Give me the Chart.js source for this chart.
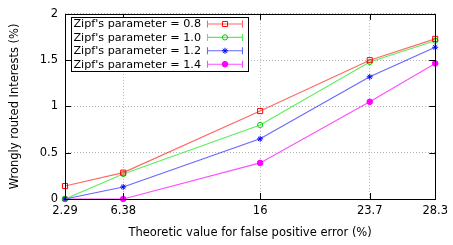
<!DOCTYPE html>
<html>
<head>
<meta charset="utf-8">
<script src="https://cdn.jsdelivr.net/npm/chart.js@4.4.1/dist/chart.umd.min.js"></script>
<style>
  html, body { margin: 0; padding: 0; background: #fff; }
  #wrap { width: 453px; height: 245px; }
</style>
</head>
<body>
<div id="wrap"><canvas id="chart" width="453" height="245"></canvas></div>
<script>
const xValues = [2.29, 6.38, 16, 23.7, 28.3];
const yTicks = [0, 0.5, 1, 1.5, 2];
const seriesLabels = ["Zipf's parameter = 0.8", "Zipf's parameter = 1.0", "Zipf's parameter = 1.2", "Zipf's parameter = 1.4"];
const zipf08 = [0.14, 0.285, 0.95, 1.5, 1.73];
const zipf10 = [0, 0.27, 0.8, 1.48, 1.71];
const zipf12 = [0, 0.13, 0.65, 1.32, 1.64];
const zipf14 = [0, 0, 0.39, 1.05, 1.465];

const FONT = "'DejaVu Sans', sans-serif";
const FSIZE = 11.5;

const styles = [
    { line: 'rgba(255,0,0,0.6)', point: '#ff0000', style: 'rect', radius: 3.6, fill: false },
    { line: 'rgba(0,230,0,0.65)', point: '#00d000', style: 'circle', radius: 2.6, fill: false },
    { line: 'rgba(0,0,255,0.6)', point: '#0000ff', style: 'star', radius: 3, fill: false },
    { line: 'rgba(255,0,255,0.7)', point: '#ff00ff', style: 'circle', radius: 2.8, fill: true }
];
const allSeries = [zipf08, zipf10, zipf12, zipf14];

const datasets = allSeries.map((vals, i) => ({
    label: seriesLabels[i],
    data: vals.map((v, j) => ({ x: xValues[j], y: v })),
    borderColor: styles[i].line,
    borderWidth: 1.1,
    pointStyle: styles[i].style,
    pointRadius: styles[i].radius,
    pointBorderColor: styles[i].point,
    pointBackgroundColor: styles[i].fill ? styles[i].point : 'rgba(0,0,0,0)',
    pointBorderWidth: 1,
    fill: false,
    tension: 0,
    clip: false
}));

// gnuplot-like frame, inner tick marks and legend box
const framePlugin = {
    id: 'frame',
    afterDraw(chart) {
        const ctx = chart.ctx;
        const a = chart.chartArea;
        const xs = chart.scales.x, ys = chart.scales.y;
        ctx.save();
        ctx.strokeStyle = '#000';
        ctx.lineWidth = 1;
        ctx.strokeRect(Math.round(a.left) + 0.5, Math.round(a.top) + 0.5, Math.round(a.right - a.left), Math.round(a.bottom - a.top));
        ctx.beginPath();
        xValues.forEach(v => {
            const px = Math.round(xs.getPixelForValue(v)) + 0.5;
            ctx.moveTo(px, a.bottom); ctx.lineTo(px, a.bottom - 6);
            ctx.moveTo(px, a.top); ctx.lineTo(px, a.top + 6);
        });
        yTicks.forEach(v => {
            const py = Math.round(ys.getPixelForValue(v)) + 0.5;
            ctx.moveTo(a.left, py); ctx.lineTo(a.left + 6, py);
            ctx.moveTo(a.right, py); ctx.lineTo(a.right - 6, py);
        });
        ctx.stroke();

        // legend
        const bx = 71.5, by = 17.5, bw = 177, bh = 54;
        ctx.fillStyle = '#fff';
        ctx.fillRect(bx, by, bw, bh);
        ctx.strokeRect(bx, by, bw, bh);
        ctx.font = '11.2px ' + FONT;
        ctx.textAlign = 'right';
        ctx.textBaseline = 'middle';
        seriesLabels.forEach((lab, i) => {
            const y = 24 + i * 13.4;
            ctx.fillStyle = '#000';
            ctx.fillText(lab, 201, y + 0.5);
            const st = styles[i];
            ctx.strokeStyle = st.line;
            ctx.lineWidth = 1.1;
            ctx.beginPath();
            ctx.moveTo(207.5, y); ctx.lineTo(242.5, y);
            ctx.moveTo(207.5, y - 3.5); ctx.lineTo(207.5, y + 3.5);
            ctx.moveTo(242.5, y - 3.5); ctx.lineTo(242.5, y + 3.5);
            ctx.stroke();
            ctx.strokeStyle = st.point;
            ctx.fillStyle = st.fill ? st.point : 'rgba(0,0,0,0)';
            ctx.lineWidth = 1;
            Chart.helpers.drawPoint(ctx, { pointStyle: st.style, radius: st.radius, borderWidth: 1 }, 225, y);
        });
        ctx.restore();
    }
};

new Chart(document.getElementById('chart'), {
    type: 'line',
    data: { datasets: datasets },
    plugins: [framePlugin],
    options: {
        responsive: false,
        animation: false,
        layout: { padding: { top: 12, right: 13, left: 0, bottom: 0 } },
        plugins: { legend: { display: false }, tooltip: { enabled: false } },
        scales: {
            x: {
                type: 'linear',
                min: 2.29,
                max: 28.3,
                afterBuildTicks: (axis) => { axis.ticks = xValues.map(v => ({ value: v })); },
                afterFit: (axis) => { axis.height = 46; },
                grid: { color: '#b4b4b4', lineWidth: 1, drawTicks: false },
                border: { display: false, dash: [1, 2] },
                ticks: {
                    color: '#000', padding: 5, maxRotation: 0, autoSkip: false,
                    font: { family: FONT, size: FSIZE },
                    callback: (v) => String(v)
                },
                title: { display: true, text: 'Theoretic value for false positive error (%)', color: '#000', font: { family: FONT, size: FSIZE }, padding: { top: 0, bottom: 5 } }
            },
            y: {
                min: 0,
                max: 2,
                afterBuildTicks: (axis) => { axis.ticks = yTicks.map(v => ({ value: v })); },
                afterFit: (axis) => { axis.width = 65; },
                grid: { color: '#b4b4b4', lineWidth: 1, drawTicks: false },
                border: { display: false, dash: [1, 2] },
                ticks: {
                    color: '#000', padding: 7,
                    font: { family: FONT, size: FSIZE },
                    callback: (v) => String(v)
                },
                title: { display: true, text: 'Wrongly routed Interests (%)', color: '#000', font: { family: FONT, size: FSIZE }, padding: { top: 8, bottom: 0 } }
            }
        }
    }
});
</script>
</body>
</html>
